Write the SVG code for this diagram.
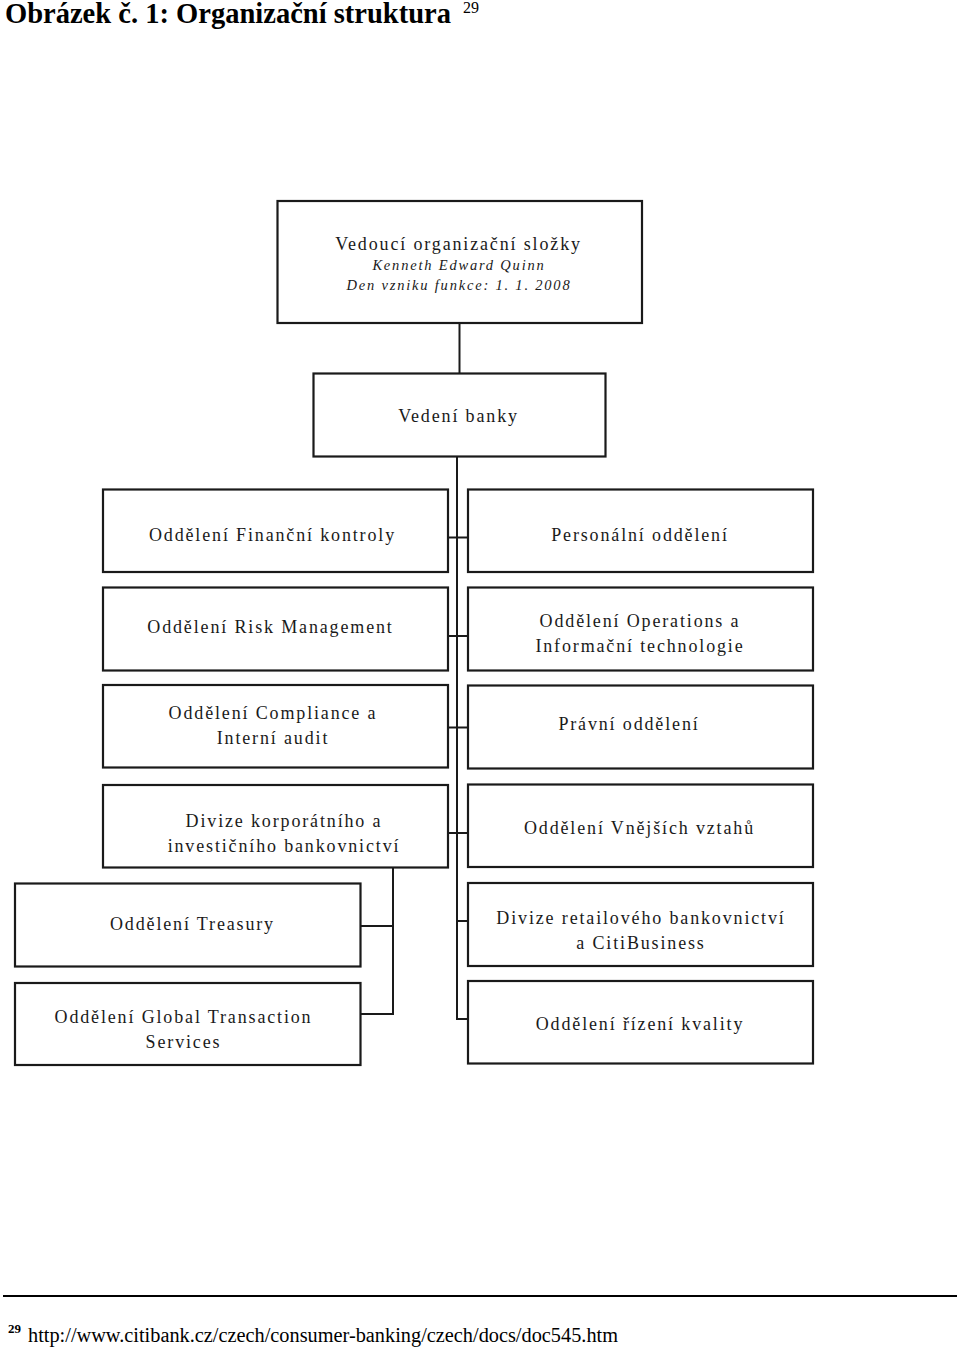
<svg xmlns="http://www.w3.org/2000/svg" width="960" height="1350" viewBox="0 0 960 1350">
<style>
.box{fill:#fff;stroke:#1a1a1a;stroke-width:2.2}
.ln{fill:none;stroke:#1a1a1a;stroke-width:2}
.t{font-family:"Liberation Serif","Times New Roman",serif;font-size:18px;letter-spacing:1.85px;fill:#1a1a1a;text-anchor:middle}
.it{font-family:"Liberation Serif","Times New Roman",serif;font-size:14.5px;font-style:italic;letter-spacing:1.8px;fill:#1a1a1a;text-anchor:middle}
.title{font-family:"Liberation Serif","Times New Roman",serif;font-weight:bold;font-size:28.5px;fill:#000}
.fn{font-family:"Liberation Serif","Times New Roman",serif;font-size:20px;fill:#000}
</style>
<rect width="960" height="1350" fill="#fff"/>
<text class="title" x="5" y="23" textLength="446" lengthAdjust="spacingAndGlyphs">Obrázek č. 1: Organizační struktura</text>
<text x="463" y="13" font-family="'Liberation Serif','Times New Roman',serif" font-size="16" fill="#000">29</text>

<g id="connectors">
<line class="ln" x1="459.5" y1="323" x2="459.5" y2="374"/>
<polyline class="ln" points="457,457 457,1019 468,1019"/>
<line class="ln" x1="448" y1="537.5" x2="468" y2="537.5"/>
<line class="ln" x1="448" y1="636" x2="468" y2="636"/>
<line class="ln" x1="448" y1="727.5" x2="468" y2="727.5"/>
<line class="ln" x1="448" y1="833" x2="468" y2="833"/>
<line class="ln" x1="457" y1="921" x2="468" y2="921"/>
<polyline class="ln" points="393,867 393,1014 361,1014"/>
<line class="ln" x1="361" y1="926" x2="393" y2="926"/>
</g>

<g id="n-vedouci">
<rect class="box" x="277.5" y="201" width="364.5" height="122"/>
<text class="t" x="458.5" y="250">Vedoucí organizační složky</text>
<text class="it" x="459" y="270">Kenneth Edward Quinn</text>
<text class="it" x="459" y="290">Den vzniku funkce: 1. 1. 2008</text>
</g>
<g id="n-vedeni">
<rect class="box" x="313.5" y="373.5" width="292" height="83"/>
<text class="t" x="458.5" y="421.5">Vedení banky</text>
</g>

<g id="n-financni">
<rect class="box" x="103" y="489.5" width="345" height="82.5"/>
<text class="t" x="272.5" y="541">Oddělení Finanční kontroly</text>
</g>
<g id="n-risk">
<rect class="box" x="103" y="587.5" width="345" height="83"/>
<text class="t" x="270.5" y="633">Oddělení Risk Management</text>
</g>
<g id="n-compliance">
<rect class="box" x="103" y="685" width="345" height="82.5"/>
<text class="t" x="273" y="718.5">Oddělení Compliance a</text>
<text class="t" x="273" y="743.5">Interní audit</text>
</g>
<g id="n-korporatni">
<rect class="box" x="103" y="785" width="345" height="82.5"/>
<text class="t" x="284" y="826.5">Divize korporátního a</text>
<text class="t" x="284" y="852">investičního bankovnictví</text>
</g>
<g id="n-treasury">
<rect class="box" x="15" y="883.5" width="345.5" height="83"/>
<text class="t" x="192.5" y="930">Oddělení Treasury</text>
</g>
<g id="n-gts">
<rect class="box" x="15" y="983" width="345.5" height="82"/>
<text class="t" x="183.5" y="1022.5">Oddělení Global Transaction</text>
<text class="t" x="183.5" y="1048">Services</text>
</g>

<g id="n-personalni">
<rect class="box" x="468" y="489.5" width="345" height="82.5"/>
<text class="t" x="640" y="541">Personální oddělení</text>
</g>
<g id="n-operations">
<rect class="box" x="468" y="587.5" width="345" height="83"/>
<text class="t" x="640" y="626.5">Oddělení Operations a</text>
<text class="t" x="640" y="651.5">Informační technologie</text>
</g>
<g id="n-pravni">
<rect class="box" x="468" y="685.5" width="345" height="83"/>
<text class="t" x="629" y="730">Právní oddělení</text>
</g>
<g id="n-vnejsi">
<rect class="box" x="468" y="784.5" width="345" height="82.5"/>
<text class="t" x="639.5" y="834">Oddělení Vnějších vztahů</text>
</g>
<g id="n-retail">
<rect class="box" x="468" y="883" width="345" height="83"/>
<text class="t" x="641" y="924">Divize retailového bankovnictví</text>
<text class="t" x="641" y="949">a CitiBusiness</text>
</g>
<g id="n-kvalita">
<rect class="box" x="468" y="981" width="345" height="82.5"/>
<text class="t" x="640" y="1029.5">Oddělení řízení kvality</text>
</g>

<line x1="3" y1="1296" x2="957" y2="1296" stroke="#000" stroke-width="2"/>
<text x="8" y="1333" font-family="'Liberation Serif','Times New Roman',serif" font-weight="bold" font-size="13" fill="#000">29</text>
<text class="fn" x="28" y="1342" textLength="590" lengthAdjust="spacingAndGlyphs">http://www.citibank.cz/czech/consumer-banking/czech/docs/doc545.htm</text>
</svg>
